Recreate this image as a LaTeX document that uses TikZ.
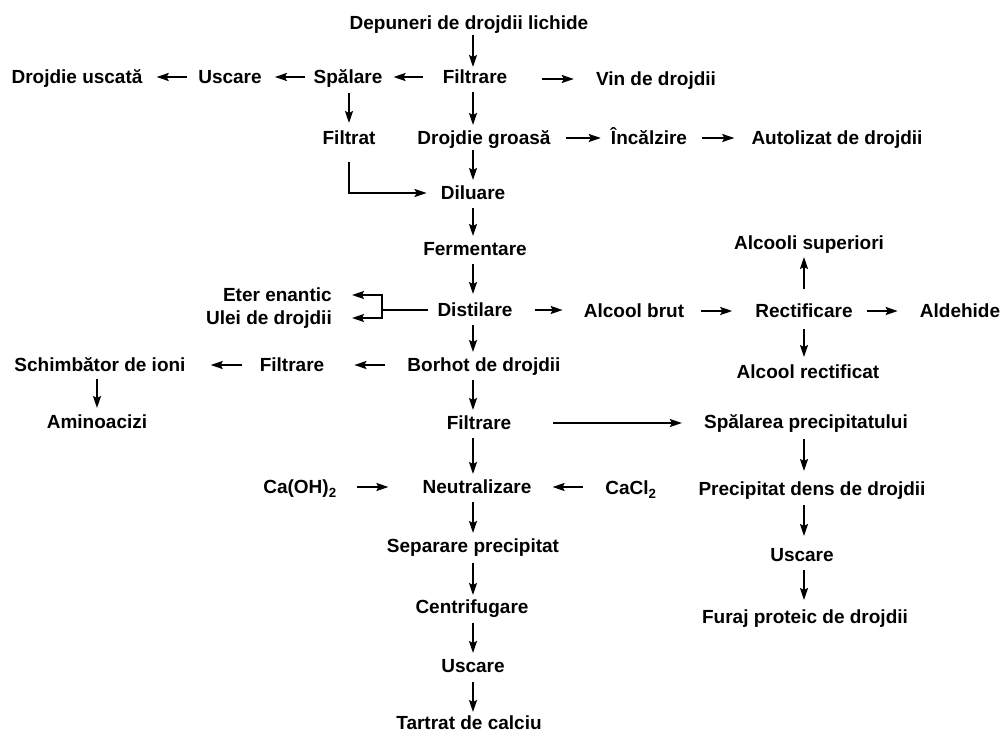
\documentclass[tikz,border=0pt]{standalone}
\usepackage{fontspec}
\setmainfont{Liberation Sans}
\usetikzlibrary{arrows.meta}

\begin{document}
\begin{tikzpicture}[x=1pt, y=-1pt,
    etape/.style={font=\fontsize{19}{22}\selectfont\bfseries, inner sep=0pt, text height=13.6pt, text depth=0pt},
    fleche/.style={-{Stealth[length=12pt, width=8pt, inset=2pt]}, line width=1.8pt, shorten <=8pt, shorten >=6pt},
    trait/.style={line width=1.8pt}]
    \useasboundingbox (0,0) rectangle (1004,736);

    % Colonnes des flèches verticales
    \coordinate (ca) at (473,0);
    \coordinate (cb) at (349,0);
    \coordinate (cc) at (804,0);
    \coordinate (cd) at (97,0);

    % Ligne principale
    \node[etape] (dep) at (469,23) {Depuneri de drojdii lichide};
    \node[etape] (fil1) at (475,77) {Filtrare};
    \node[etape] (drg) at (484,138) {Drojdie groasă};
    \node[etape] (dil) at (473,193) {Diluare};
    \node[etape] (fer) at (475,249) {Fermentare};
    \node[etape] (dist) at (475,310) {Distilare};
    \node[etape] (bor) at (484,365) {Borhot de drojdii};
    \node[etape] (fil3) at (479,423) {Filtrare};
    \node[etape] (neu) at (477,487) {Neutralizare};
    \node[etape] (sep) at (473,546) {Separare precipitat};
    \node[etape] (cen) at (472,607) {Centrifugare};
    \node[etape] (usc2) at (473,666) {Uscare};
    \node[etape] (tar) at (469,723) {Tartrat de calciu};

    % Branche de gauche (haut)
    \node[etape] (spa) at (348,77) {Spălare};
    \node[etape] (usc1) at (230,77) {Uscare};
    \node[etape] (dus) at (77,77) {Drojdie uscată};
    \node[etape] (filt) at (349,138) {Filtrat};
    \node[etape, anchor=east] (eter) at (332,295) {Eter enantic};
    \node[etape, anchor=east] (ulei) at (332,318) {Ulei de drojdii};

    % Branche de gauche (bas)
    \node[etape] (fil2) at (292,365) {Filtrare};
    \node[etape] (sch) at (100,365) {Schimbător de ioni};
    \node[etape] (amino) at (97,422) {Aminoacizi};
    \node[etape] (caoh) at (300,487) {Ca(OH)\textsubscript{2}};

    % Branche de droite
    \node[etape] (vin) at (656,79) {Vin de drojdii};
    \node[etape] (inc) at (649,138) {Încălzire};
    \node[etape] (aut) at (837,138) {Autolizat de drojdii};
    \node[etape] (abrut) at (634,311) {Alcool brut};
    \node[etape] (rect) at (804,311) {Rectificare};
    \node[etape] (asup) at (809,243) {Alcooli superiori};
    \node[etape] (arect) at (808,372) {Alcool rectificat};
    \node[etape] (ald) at (960,311) {Aldehide};
    \node[etape] (cacl) at (631,488) {CaCl\textsubscript{2}};
    \node[etape] (spp) at (806,422) {Spălarea precipitatului};
    \node[etape] (pdd) at (812,489) {Precipitat dens de drojdii};
    \node[etape] (usc3) at (802,555) {Uscare};
    \node[etape] (fur) at (805,617) {Furaj proteic de drojdii};

    % Flèches verticales, colonne principale
    \draw[fleche, shorten <=5pt, shorten >=3pt] (dep.south -| ca) -- (fil1.north -| ca);
    \draw[fleche] (fil1.south -| ca) -- (drg.north -| ca);
    \draw[fleche, shorten <=5pt] (drg.south -| ca) -- (dil.north -| ca);
    \draw[fleche] (dil.south -| ca) -- (fer.north -| ca);
    \draw[fleche, shorten >=9pt] (fer.south -| ca) -- (dist.north -| ca);
    \draw[fleche] (dist.south -| ca) -- (bor.north -| ca);
    \draw[fleche] (bor.south -| ca) -- (fil3.north -| ca);
    \draw[fleche] (fil3.south -| ca) -- (neu.north -| ca);
    \draw[fleche] (neu.south -| ca) -- (sep.north -| ca);
    \draw[fleche, shorten <=10pt, shorten >=5pt] (sep.south -| ca) -- (cen.north -| ca);
    \draw[fleche, shorten <=9pt] (cen.south -| ca) -- (usc2.north -| ca);
    \draw[fleche, shorten <=9pt, shorten >=4pt] (usc2.south -| ca) -- (tar.north -| ca);

    % Autres flèches verticales
    \draw[fleche, shorten <=9pt, shorten >=8pt] (spa.south -| cb) -- (filt.north -| cb);
    \draw[fleche, shorten <=7pt, shorten >=7pt] (sch.south -| cd) -- (amino.north -| cd);
    \draw[fleche, shorten <=15pt, shorten >=7pt] (rect.north -| cc) -- (asup.south -| cc);
    \draw[fleche, shorten <=11pt, shorten >=8pt] (rect.south -| cc) -- (arect.north -| cc);
    \draw[fleche, shorten <=10pt, shorten >=11pt] (spp.south -| cc) -- (pdd.north -| cc);
    \draw[fleche, shorten <=9pt, shorten >=12pt] (pdd.south -| cc) -- (usc3.north -| cc);
    \draw[fleche, shorten <=8pt, shorten >=10pt] (usc3.south -| cc) -- (fur.north -| cc);

    % Flèches horizontales
    \draw[fleche, shorten <=20pt, shorten >=11pt] (fil1.west) -- (spa.east);
    \draw[fleche, shorten <=8pt, shorten >=13pt] (spa.west) -- (usc1.east);
    \draw[fleche, shorten <=11pt, shorten >=14pt] (usc1.west) -- (dus.east);
    \draw[fleche, shorten <=35pt, shorten >=22pt] (fil1.east |- vin.west) -- (vin.west);
    \draw[fleche, shorten <=15pt, shorten >=10pt] (drg.east) -- (inc.west);
    \draw[fleche, shorten <=15pt, shorten >=17pt] (inc.east) -- (aut.west);
    \draw[fleche, shorten <=22pt, shorten >=21pt] (dist.east) -- (dist.east -| abrut.west);
    \draw[fleche, shorten <=17pt, shorten >=23pt] (abrut.east) -- (abrut.east -| rect.west);
    \draw[fleche, shorten <=14pt, shorten >=22pt] (rect.east) -- (rect.east -| ald.west);
    \draw[fleche, shorten <=22pt, shorten >=30pt] (bor.west) -- (fil2.east);
    \draw[fleche, shorten <=18pt, shorten >=25pt] (fil2.west) -- (sch.east);
    \draw[fleche, shorten <=42pt, shorten >=22pt] (fil3.east) -- (fil3.east -| spp.west);
    \draw[fleche, shorten <=20pt, shorten >=34pt] (caoh.east |- neu.west) -- (neu.west);
    \draw[fleche, shorten <=22pt, shorten >=21pt] (cacl.west |- neu.east) -- (neu.east);

    % Filtrat vers Diluare
    \draw[fleche, shorten <=17pt, shorten >=14pt] (filt.south) |- (dil.west);

    % Distilare vers Eter enantic et Ulei de drojdii
    \coordinate (br) at (382,310);
    \draw[trait, shorten <=9pt] (dist.west) -- (br);
    \draw[fleche, shorten <=0pt, shorten >=20pt] (br) |- (eter.east);
    \draw[fleche, shorten <=0pt, shorten >=20pt] (br) |- (ulei.east);
\end{tikzpicture}
\end{document}
